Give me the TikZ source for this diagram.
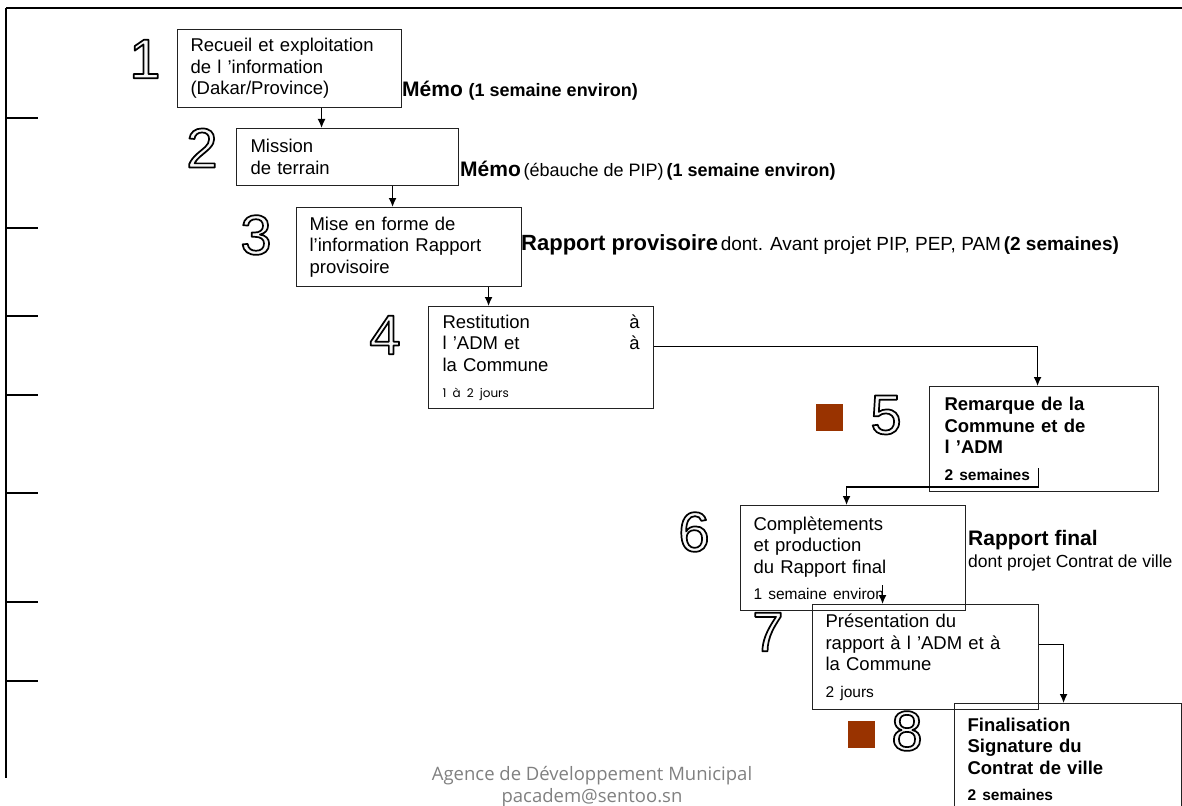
\documentclass[tikz,border=0pt]{standalone}
\usepackage{fontspec}
\setmainfont{Liberation Sans}
\newfontfamily\notefont{Poppins}
\newfontfamily\footfont{Open Sans}
\usetikzlibrary{arrows.meta}

\definecolor{brique}{HTML}{993300}
\definecolor{trait}{HTML}{222222}
\definecolor{pied}{HTML}{808080}

% chiffre creux : remplissage clair, contour noir
\newcommand{\chiffre}[1]{\special{pdf:literal direct 0 G 1.7 w 1 j 2 Tr}#1\special{pdf:literal direct 0 Tr}}
\newcommand{\grand}{\fontsize{21}{23}\selectfont}
\newcommand{\moyen}{\fontsize{18}{20}\selectfont}
\newcommand{\petit}{\fontsize{15.5}{18}\selectfont}

\begin{document}
\begin{tikzpicture}[x=1pt, y=-1pt,
    stepbox/.style={draw=trait, line width=1.1pt, anchor=north west, align=left,
      inner xsep=13pt, inner ysep=0pt, font=\fontsize{18.5}{21.5}\selectfont},
    boldbox/.style={stepbox, font=\bfseries\fontsize{18.5}{21.5}\selectfont},
    numero/.style={font=\fontsize{56}{56}\selectfont, text=gray!6, inner sep=0pt},
    legende/.style={anchor=base west, inner sep=0pt},
    carre/.style={fill=brique, minimum size=27pt, inner sep=0pt},
    lien/.style={line width=1.4pt, -{Latex[length=9pt,width=8pt]}}]

    \useasboundingbox (0,0) rectangle (1182,805);
    \clip (0,0) rectangle (1182,805);

    % cadre et graduations
    \draw[line width=1.5pt] (6,8) -- (1182,8);
    \draw[line width=2.5pt] (6,8) -- (6,778);
    \foreach \ty in {118,228,316,395,493,602,681}
      \draw[line width=1.2pt] (6,\ty) -- (38,\ty);

    % etapes
    \node[stepbox, text width=198pt, minimum height=78pt] (recueil) at (177,29)
      {Recueil et exploitation\\de l ’information\\(Dakar/Province)};
    \node[stepbox, inner xsep=14pt, text width=194pt, minimum height=57pt] (mission) at (236,128)
      {Mission\\de terrain};
    \node[stepbox, text width=199pt, minimum height=79pt] (miseforme) at (296,207)
      {Mise en forme de\\l’information Rapport\\provisoire};
    \node[stepbox, inner xsep=14pt, text width=197pt, minimum height=102pt] (restitution) at (428,306)
      {Restitution\hfill à\\l ’ADM et\hfill à\hspace*{13pt}\\la Commune\\[5pt]
       {\notefont\fontsize{12}{14}\selectfont 1 à 2 jours}};
    \node[boldbox, inner xsep=15pt, text width=199pt, minimum height=105pt] (remarque) at (929,386)
      {Remarque de la\\Commune et de\\l ’ADM\\[5pt]{\petit 2 semaines}};
    \node[stepbox, text width=199pt, minimum height=105pt] (completement) at (740,505)
      {Complètements\\et production\\du Rapport final\\[5pt]{\petit 1 semaine environ}};
    \node[stepbox, text width=200pt, minimum height=105pt] (presentation) at (812,604)
      {Présentation du\\rapport à l ’ADM et à\\la Commune\\[5pt]{\petit 2 jours}};
    \node[boldbox, text width=201pt, minimum height=112pt] (finalisation) at (954,703)
      {Finalisation\\Signature du\\Contrat de ville\\[5pt]{\petit 2 semaines}};

    % numeros
    \node[numero] (n1) at (145,59) {\chiffre{1}};
    \node[numero] (n2) at (202,148) {\chiffre{2}};
    \node[numero] (n3) at (256,235) {\chiffre{3}};
    \node[numero] (n4) at (385,335) {\chiffre{4}};
    \node[numero] (n5) at (886,415) {\chiffre{5}};
    \node[numero] (n6) at (694,532) {\chiffre{6}};
    \node[numero] (n7) at (768,632) {\chiffre{7}};
    \node[numero] (n8) at (907,731) {\chiffre{8}};
    \node[carre] (carre5) at (829,417) {};
    \node[carre] (carre8) at (861,734) {};

    % livrables
    \node[legende] (memoa) at (402,97)
      {\bfseries\grand Mémo {\moyen (1 semaine environ)}};
    \node[legende] (memob) at (460,176)
      {{\bfseries\grand Mémo} {\moyen (ébauche de PIP)} {\bfseries\moyen(1 semaine environ)}};
    \node[legende] (rapprov) at (521,250)
      {{\bfseries\fontsize{22}{24}\selectfont Rapport provisoire}
       {\fontsize{19}{21}\selectfont dont. Avant projet PIP, PEP, PAM}
       {\bfseries\fontsize{19}{21}\selectfont(2 semaines)}};
    \node[legende] (rapfinal) at (968,545) {\bfseries\grand Rapport final};
    \node[legende] (dontprojet) at (968,567) {\fontsize{17.5}{20}\selectfont dont projet Contrat de ville};

    % enchainement
    \draw[lien] ([xshift=32pt]recueil.south) -- ([xshift=-26pt]mission.north);
    \draw[lien] ([xshift=45pt]mission.south) -- ([xshift=-16.5pt]miseforme.north);
    \draw[lien] ([xshift=79.5pt]miseforme.south) -- ([xshift=-52.5pt]restitution.north);
    \draw[lien] ([yshift=11pt]restitution.east) -| ([xshift=-6.5pt]remarque.north);
    \draw[lien] ([xshift=-5.5pt,yshift=24pt]remarque.south)
      -- ([xshift=-5.5pt,yshift=5pt]remarque.south) -| ([xshift=-6.5pt]completement.north);
    \draw[lien] ([xshift=29.5pt,yshift=26pt]completement.south) -- ([xshift=-43pt]presentation.north);
    \draw[lien] ([yshift=12.5pt]presentation.east) -| ([xshift=-4.5pt]finalisation.north);

    % pied de page
    \node[text=pied, font=\footfont\fontsize{18.5}{21}\selectfont, anchor=base] (agence) at (592,780)
      {Agence de Développement Municipal};
    \node[text=pied, font=\footfont\fontsize{18.5}{21}\selectfont, anchor=base] (courriel) at (592,802)
      {pacadem@sentoo.sn};
\end{tikzpicture}
\end{document}
